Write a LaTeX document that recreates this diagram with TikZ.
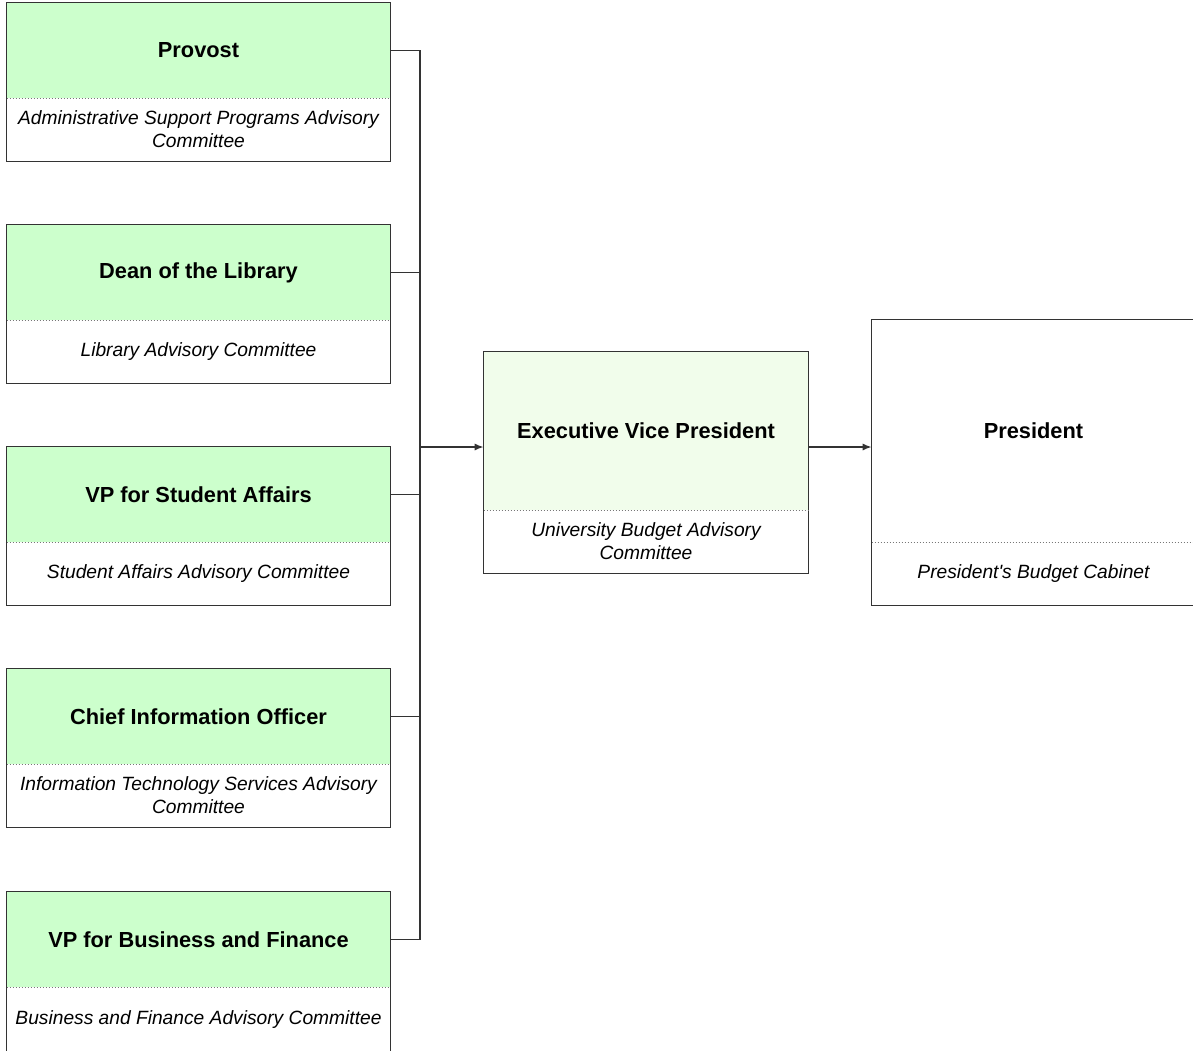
\documentclass[tikz,border=0pt]{standalone}
\usepackage{fontspec}
\setmainfont{Liberation Sans}
\usetikzlibrary{arrows.meta,calc}
\definecolor{boxgreen}{HTML}{CCFFCC}
\definecolor{evpgreen}{HTML}{F1FDEB}
\definecolor{edgegray}{HTML}{333333}
\definecolor{divgray}{HTML}{777777}
\begin{document}
\begin{tikzpicture}[x=0.5pt,y=-0.5pt,
  titlepart/.style={inner sep=0pt, minimum width=191.5pt, minimum height=47.5pt,
    font=\bfseries\fontsize{10.9}{13}\selectfont, text=black, fill=boxgreen},
  commpart/.style={inner sep=0pt, minimum width=191.5pt, minimum height=31.5pt,
    font=\itshape\fontsize{9.6}{11.5}\selectfont, text=black, align=center},
  border/.style={draw=edgegray, line width=0.75pt},
  divider/.style={draw=divgray, line width=0.5pt, densely dotted},
  conn/.style={draw=edgegray, line width=0.75pt},
  arrowconn/.style={conn, -{Latex[length=4.5pt,width=3.6pt]}}
]
\useasboundingbox (0,0) rectangle (1193,1050);
\clip (0,0) rectangle (1193,1050);

% Provost
\node[titlepart] (t1) at (198.5,50.5) {Provost};
\node[commpart] (c1) at (198.5,129.5) {Administrative Support Programs Advisory\\Committee};
\draw[border] (t1.north west) rectangle (c1.south east);
\draw[divider] (t1.south west) -- (t1.south east);

% Dean of the Library
\node[titlepart] (t2) at (198.5,272.5) {Dean of the Library};
\node[commpart] (c2) at (198.5,351.5) {Library Advisory Committee};
\draw[border] (t2.north west) rectangle (c2.south east);
\draw[divider] (t2.south west) -- (t2.south east);

% VP for Student Affairs
\node[titlepart] (t3) at (198.5,494.5) {VP for Student Affairs};
\node[commpart] (c3) at (198.5,573.5) {Student Affairs Advisory Committee};
\draw[border] (t3.north west) rectangle (c3.south east);
\draw[divider] (t3.south west) -- (t3.south east);

% Chief Information Officer
\node[titlepart] (t4) at (198.5,716.5) {Chief Information Officer};
\node[commpart] (c4) at (198.5,795.5) {Information Technology Services Advisory\\Committee};
\draw[border] (t4.north west) rectangle (c4.south east);
\draw[divider] (t4.south west) -- (t4.south east);

% VP for Business and Finance
\node[titlepart] (t5) at (198.5,939.5) {VP for Business and Finance};
\node[commpart, minimum height=32.5pt] (c5) at (198.5,1019.5) {Business and Finance Advisory Committee};
\draw[border] (t5.north west) rectangle (c5.south east);
\draw[divider] (t5.south west) -- (t5.south east);

% Executive Vice President
\node[titlepart, fill=evpgreen, minimum width=162pt, minimum height=79pt] (te) at (646,431) {Executive Vice President};
\node[commpart, minimum width=162pt] (ce) at (646,541.5) {University Budget Advisory\\Committee};
\draw[border] (te.north west) rectangle (ce.south east);
\draw[divider] (te.south west) -- (te.south east);

% President
\node[titlepart, fill=white, minimum width=161.5pt, minimum height=111pt] (tp) at (1033.5,431) {President};
\node[commpart, minimum width=161.5pt] (cp) at (1033.5,573.5) {President\textquotesingle s Budget Cabinet};
\draw[border] (tp.north west) rectangle (cp.south east);
\draw[divider] (tp.south west) -- (tp.south east);

% connectors
\coordinate (bus) at (420,447);
\draw[conn] (t1.east) -- (t1.east -| bus) -- (t5.east -| bus) -- (t5.east);
\draw[conn] (t2.east) -- (t2.east -| bus);
\draw[conn] (t3.east) -- (t3.east -| bus);
\draw[conn] (t4.east) -- (t4.east -| bus);
\draw[arrowconn] (bus) -- (bus -| te.west);
\draw[arrowconn] (bus -| te.east) -- (bus -| tp.west);
\end{tikzpicture}
\end{document}
